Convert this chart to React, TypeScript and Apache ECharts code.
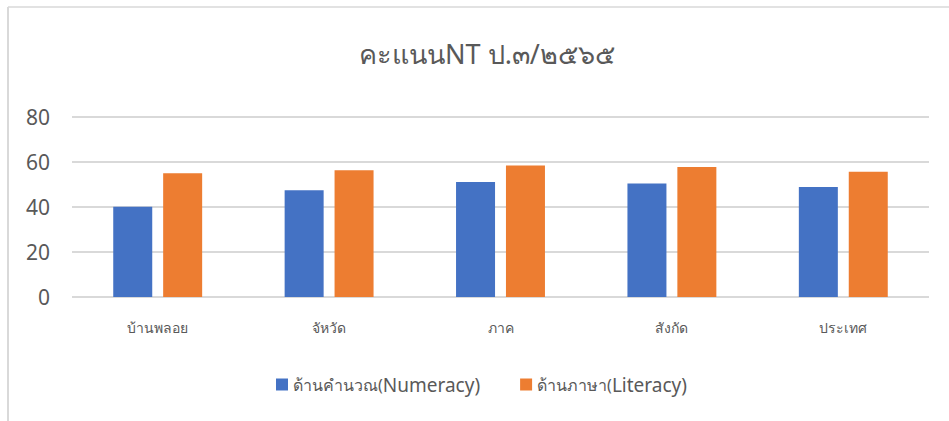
import React, { useEffect, useRef } from "react";
import * as echarts from "echarts";

const categories = ["บ้านพลอย", "จัหวัด", "ภาค", "สังกัด", "ประเทศ"];
const numeracy = [40.1, 47.4, 51.1, 50.5, 48.9];
const literacy = [55.0, 56.3, 58.5, 57.8, 55.7];
const seriesNames = ["ด้านคำนวณ(Numeracy)", "ด้านภาษา(Literacy)"];
const titleText = "คะแนนNT ป.๓/๒๕๖๕";

const FONT = "'Noto Sans', 'Open Sans', sans-serif";

export default function App() {
  const ref = useRef<HTMLDivElement>(null);
  useEffect(() => {
    document.body.style.margin = "0";
    const chart = echarts.init(ref.current!, null, { renderer: "svg" });
    chart.setOption({
      animation: false,
      backgroundColor: "#ffffff",
      textStyle: { fontFamily: FONT },
      title: {
        text: titleText,
        left: 482,
        top: 35,
        textAlign: "center",
        textStyle: { fontSize: 27, fontWeight: "normal", color: "#595959", fontFamily: FONT },
      },
      legend: {
        bottom: 22,
        left: 271,
        itemWidth: 12,
        itemHeight: 12,
        itemGap: 40,
        icon: "rect",
        formatter: (name: string) => {
          const i = name.indexOf("(");
          return "{t|" + name.slice(0, i + 1) + "}{e|" + name.slice(i + 1) + "}";
        },
        textStyle: {
          fontSize: 17,
          color: "#595959",
          fontFamily: FONT,
          rich: {
            t: { fontSize: 16, color: "#595959", fontFamily: FONT },
            e: { fontSize: 19, color: "#595959", fontFamily: FONT },
          },
        },
        data: seriesNames,
      },
      grid: { left: 72, right: 20, top: 117, bottom: 124, containLabel: false },
      xAxis: {
        type: "category",
        data: categories,
        axisLine: { show: false },
        axisTick: { show: false },
        axisLabel: { fontSize: 14, color: "#595959", margin: 23, fontFamily: FONT },
      },
      yAxis: {
        type: "value",
        min: 0,
        max: 80,
        interval: 20,
        axisLine: { show: false },
        axisTick: { show: false },
        axisLabel: { fontSize: 21, color: "#595959", margin: 22, fontFamily: FONT },
        splitLine: { lineStyle: { color: "#d9d9d9", width: 2 } },
      },
      series: [
        {
          name: seriesNames[0],
          type: "bar",
          data: numeracy,
          barWidth: 39,
          barGap: "28%",
          itemStyle: { color: "#4472c4" },
        },
        {
          name: seriesNames[1],
          type: "bar",
          data: literacy,
          barWidth: 39,
          barGap: "28%",
          itemStyle: { color: "#ed7d31" },
        },
      ],
      graphic: [
        { type: "line", shape: { x1: 8, y1: 7, x2: 949, y2: 7 }, style: { stroke: "#d9d9d9", lineWidth: 1.5 } },
        { type: "line", shape: { x1: 8, y1: 7, x2: 8, y2: 421 }, style: { stroke: "#d9d9d9", lineWidth: 2 } },
      ],
    });
    return () => chart.dispose();
  }, []);
  return <div ref={ref} style={{ width: 949, height: 421 }} />;
}
